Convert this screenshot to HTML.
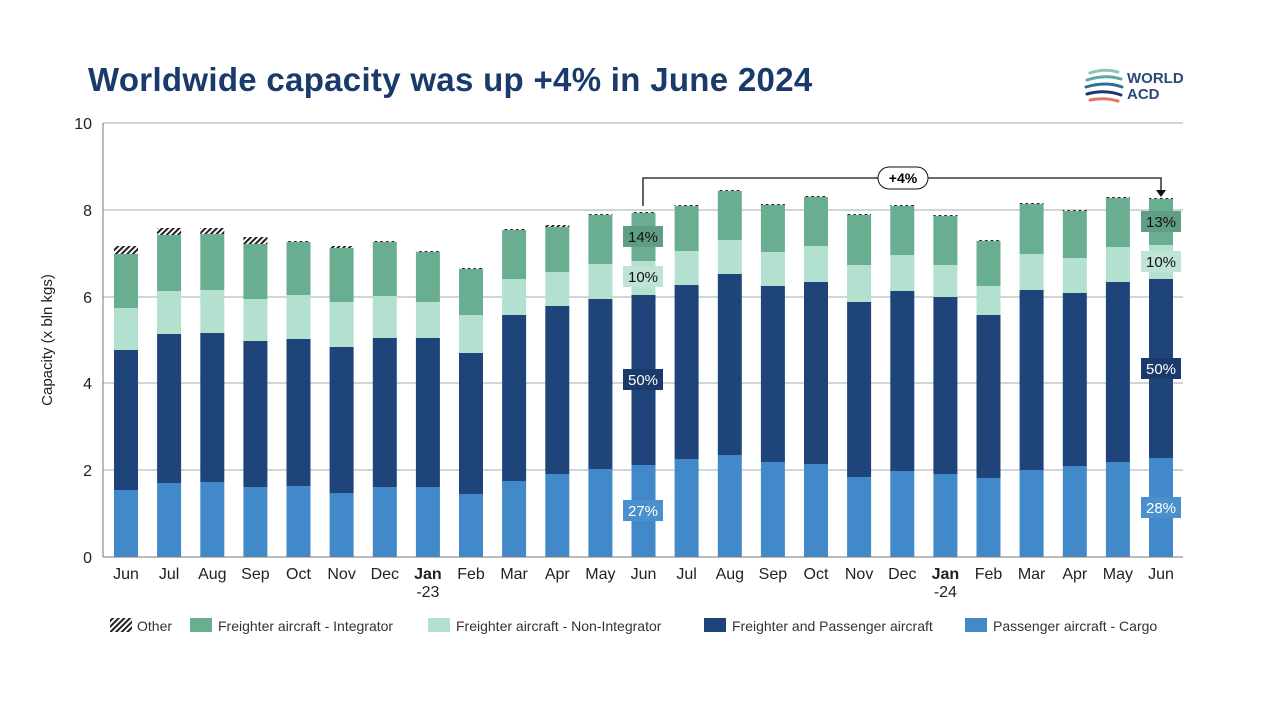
<!DOCTYPE html>
<html><head><meta charset="utf-8"><style>
body{margin:0;background:#fff;}
svg{display:block;font-family:"Liberation Sans",sans-serif;}
.a{fill:#4289c9}.b{fill:#1e4479}.c{fill:#b3e0cf}.e{fill:#6aae92}.o{fill:url(#h)}
</style></head><body>
<svg width="1280" height="720" viewBox="0 0 1280 720" xmlns="http://www.w3.org/2000/svg">
<defs>
<pattern id="h" width="4" height="4" patternUnits="userSpaceOnUse" patternTransform="rotate(45)">
<rect width="4" height="4" fill="#fff"/><rect width="2" height="4" fill="#222"/></pattern>
</defs>
<text x="88" y="91" font-size="33" font-weight="bold" letter-spacing="0.3" fill="#1a3a6b">Worldwide capacity was up +4% in June 2024</text>
<g fill="none" stroke-width="3" stroke-linecap="round">
<path d="M1090 73 q14 -5 28 -1" stroke="#8cc7b0"/>
<path d="M1087 80 q18 -6 34 -1" stroke="#5fa7a0"/>
<path d="M1086 87 q20 -6 36 0" stroke="#2d6f93"/>
<path d="M1087 94 q18 -5 34 1" stroke="#1a3a6b"/>
<path d="M1090 100 q14 -3 28 1" stroke="#e07a5f"/>
</g>
<text x="1127" y="83" font-size="15" font-weight="bold" fill="#2a4a75">WORLD</text>
<text x="1127" y="99" font-size="15" font-weight="bold" fill="#2a4a75">ACD</text>
<g stroke="#9bb0ac" stroke-width="1">
<line x1="103" y1="123" x2="1183" y2="123"/>
<line x1="103" y1="210" x2="1183" y2="210"/>
<line x1="103" y1="297" x2="1183" y2="297"/>
<line x1="103" y1="383" x2="1183" y2="383"/>
<line x1="103" y1="470" x2="1183" y2="470"/>
</g>
<g font-size="16" fill="#222" text-anchor="end">
<text x="92" y="129">10</text><text x="92" y="216">8</text><text x="92" y="303">6</text>
<text x="92" y="389">4</text><text x="92" y="476">2</text><text x="92" y="563">0</text>
</g>
<text transform="translate(52,340) rotate(-90)" font-size="15" fill="#222" text-anchor="middle">Capacity (x bln kgs)</text>

<g transform="translate(114,0)"><rect class="a" y="490" width="24" height="67"/><rect class="b" y="350" width="24" height="140"/><rect class="c" y="308" width="24" height="42"/><rect class="e" y="254" width="24" height="54"/><rect class="o" y="246" width="24" height="8"/></g>
<g transform="translate(157.1,0)"><rect class="a" y="483" width="24" height="74"/><rect class="b" y="334" width="24" height="149"/><rect class="c" y="291" width="24" height="43"/><rect class="e" y="235" width="24" height="56"/><rect class="o" y="228" width="24" height="7"/></g>
<g transform="translate(200.3,0)"><rect class="a" y="482" width="24" height="75"/><rect class="b" y="333" width="24" height="149"/><rect class="c" y="290" width="24" height="43"/><rect class="e" y="234" width="24" height="56"/><rect class="o" y="228" width="24" height="6"/></g>
<g transform="translate(243.4,0)"><rect class="a" y="487" width="24" height="70"/><rect class="b" y="341" width="24" height="146"/><rect class="c" y="299" width="24" height="42"/><rect class="e" y="244" width="24" height="55"/><rect class="o" y="237" width="24" height="7"/></g>
<g transform="translate(286.5,0)"><rect class="a" y="486" width="24" height="71"/><rect class="b" y="339" width="24" height="147"/><rect class="c" y="295" width="24" height="44"/><rect class="e" y="242" width="24" height="53"/><rect class="o" y="241" width="24" height="1"/></g>
<g transform="translate(329.6,0)"><rect class="a" y="493" width="24" height="64"/><rect class="b" y="347" width="24" height="146"/><rect class="c" y="302" width="24" height="45"/><rect class="e" y="248" width="24" height="54"/><rect class="o" y="246" width="24" height="2"/></g>
<g transform="translate(372.8,0)"><rect class="a" y="487" width="24" height="70"/><rect class="b" y="338" width="24" height="149"/><rect class="c" y="296" width="24" height="42"/><rect class="e" y="242" width="24" height="54"/><rect class="o" y="241" width="24" height="1"/></g>
<g transform="translate(415.9,0)"><rect class="a" y="487" width="24" height="70"/><rect class="b" y="338" width="24" height="149"/><rect class="c" y="302" width="24" height="36"/><rect class="e" y="252" width="24" height="50"/><rect class="o" y="251" width="24" height="1"/></g>
<g transform="translate(459,0)"><rect class="a" y="494" width="24" height="63"/><rect class="b" y="353" width="24" height="141"/><rect class="c" y="315" width="24" height="38"/><rect class="e" y="269" width="24" height="46"/><rect class="o" y="268" width="24" height="1"/></g>
<g transform="translate(502.1,0)"><rect class="a" y="481" width="24" height="76"/><rect class="b" y="315" width="24" height="166"/><rect class="c" y="279" width="24" height="36"/><rect class="e" y="230" width="24" height="49"/><rect class="o" y="229" width="24" height="1"/></g>
<g transform="translate(545.3,0)"><rect class="a" y="474" width="24" height="83"/><rect class="b" y="306" width="24" height="168"/><rect class="c" y="272" width="24" height="34"/><rect class="e" y="227" width="24" height="45"/><rect class="o" y="225" width="24" height="2"/></g>
<g transform="translate(588.4,0)"><rect class="a" y="469" width="24" height="88"/><rect class="b" y="299" width="24" height="170"/><rect class="c" y="264" width="24" height="35"/><rect class="e" y="215" width="24" height="49"/><rect class="o" y="214" width="24" height="1"/></g>
<g transform="translate(631.5,0)"><rect class="a" y="465" width="24" height="92"/><rect class="b" y="295" width="24" height="170"/><rect class="c" y="261" width="24" height="34"/><rect class="e" y="213" width="24" height="48"/><rect class="o" y="212" width="24" height="1"/></g>
<g transform="translate(674.6,0)"><rect class="a" y="459" width="24" height="98"/><rect class="b" y="285" width="24" height="174"/><rect class="c" y="251" width="24" height="34"/><rect class="e" y="206" width="24" height="45"/><rect class="o" y="205" width="24" height="1"/></g>
<g transform="translate(717.8,0)"><rect class="a" y="455" width="24" height="102"/><rect class="b" y="274" width="24" height="181"/><rect class="c" y="240" width="24" height="34"/><rect class="e" y="191" width="24" height="49"/><rect class="o" y="190" width="24" height="1"/></g>
<g transform="translate(760.9,0)"><rect class="a" y="462" width="24" height="95"/><rect class="b" y="286" width="24" height="176"/><rect class="c" y="252" width="24" height="34"/><rect class="e" y="205" width="24" height="47"/><rect class="o" y="204" width="24" height="1"/></g>
<g transform="translate(804,0)"><rect class="a" y="464" width="24" height="93"/><rect class="b" y="282" width="24" height="182"/><rect class="c" y="246" width="24" height="36"/><rect class="e" y="197" width="24" height="49"/><rect class="o" y="196" width="24" height="1"/></g>
<g transform="translate(847.1,0)"><rect class="a" y="477" width="24" height="80"/><rect class="b" y="302" width="24" height="175"/><rect class="c" y="265" width="24" height="37"/><rect class="e" y="215" width="24" height="50"/><rect class="o" y="214" width="24" height="1"/></g>
<g transform="translate(890.3,0)"><rect class="a" y="471" width="24" height="86"/><rect class="b" y="291" width="24" height="180"/><rect class="c" y="255" width="24" height="36"/><rect class="e" y="206" width="24" height="49"/><rect class="o" y="205" width="24" height="1"/></g>
<g transform="translate(933.4,0)"><rect class="a" y="474" width="24" height="83"/><rect class="b" y="297" width="24" height="177"/><rect class="c" y="265" width="24" height="32"/><rect class="e" y="216" width="24" height="49"/><rect class="o" y="215" width="24" height="1"/></g>
<g transform="translate(976.5,0)"><rect class="a" y="478" width="24" height="79"/><rect class="b" y="315" width="24" height="163"/><rect class="c" y="286" width="24" height="29"/><rect class="e" y="241" width="24" height="45"/><rect class="o" y="240" width="24" height="1"/></g>
<g transform="translate(1019.6,0)"><rect class="a" y="470" width="24" height="87"/><rect class="b" y="290" width="24" height="180"/><rect class="c" y="254" width="24" height="36"/><rect class="e" y="204" width="24" height="50"/><rect class="o" y="203" width="24" height="1"/></g>
<g transform="translate(1062.8,0)"><rect class="a" y="466" width="24" height="91"/><rect class="b" y="293" width="24" height="173"/><rect class="c" y="258" width="24" height="35"/><rect class="e" y="211" width="24" height="47"/><rect class="o" y="210" width="24" height="1"/></g>
<g transform="translate(1105.9,0)"><rect class="a" y="462" width="24" height="95"/><rect class="b" y="282" width="24" height="180"/><rect class="c" y="247" width="24" height="35"/><rect class="e" y="198" width="24" height="49"/><rect class="o" y="197" width="24" height="1"/></g>
<g transform="translate(1149,0)"><rect class="a" y="458" width="24" height="99"/><rect class="b" y="279" width="24" height="179"/><rect class="c" y="245" width="24" height="34"/><rect class="e" y="199" width="24" height="46"/><rect class="o" y="198" width="24" height="1"/></g>

<line x1="103" y1="123" x2="103" y2="557" stroke="#777"/>
<line x1="103" y1="557" x2="1183" y2="557" stroke="#777"/>

<g font-size="16" fill="#222" text-anchor="middle">
<text x="126" y="579">Jun</text><text x="169.1" y="579">Jul</text><text x="212.3" y="579">Aug</text><text x="255.4" y="579">Sep</text><text x="298.5" y="579">Oct</text><text x="341.6" y="579">Nov</text><text x="384.8" y="579">Dec</text>
<text x="427.9" y="579" font-weight="bold">Jan</text><text x="427.9" y="597">-23</text>
<text x="471" y="579">Feb</text><text x="514.1" y="579">Mar</text><text x="557.3" y="579">Apr</text><text x="600.4" y="579">May</text><text x="643.5" y="579">Jun</text><text x="686.6" y="579">Jul</text><text x="729.8" y="579">Aug</text><text x="772.9" y="579">Sep</text><text x="816" y="579">Oct</text><text x="859.1" y="579">Nov</text><text x="902.3" y="579">Dec</text>
<text x="945.4" y="579" font-weight="bold">Jan</text><text x="945.4" y="597">-24</text>
<text x="988.5" y="579">Feb</text><text x="1031.6" y="579">Mar</text><text x="1074.8" y="579">Apr</text><text x="1117.9" y="579">May</text><text x="1161" y="579">Jun</text>
</g>

<path d="M643 206 V178 H1161 V192" stroke="#111" fill="none" stroke-width="1.3"/>
<polygon points="1156,190 1166,190 1161,197" fill="#111"/>
<rect x="878" y="167" width="50" height="22" rx="11" fill="#fff" stroke="#111"/>
<text x="903" y="183" font-size="14" font-weight="bold" text-anchor="middle">+4%</text>
<g font-size="15" text-anchor="middle">
<rect x="623" y="226" width="40" height="21" fill="#5f9e84"/><text x="643" y="242" fill="#111">14%</text>
<rect x="623" y="266" width="40" height="21" fill="#bfe3d6"/><text x="643" y="282" fill="#111">10%</text>
<rect x="623" y="369" width="40" height="21" fill="#1a3a6b"/><text x="643" y="385" fill="#fff">50%</text>
<rect x="623" y="500" width="40" height="21" fill="#4a90cc"/><text x="643" y="516" fill="#fff">27%</text>
<rect x="1141" y="211" width="40" height="21" fill="#5f9e84"/><text x="1161" y="227" fill="#111">13%</text>
<rect x="1141" y="251" width="40" height="21" fill="#bfe3d6"/><text x="1161" y="267" fill="#111">10%</text>
<rect x="1141" y="358" width="40" height="21" fill="#1a3a6b"/><text x="1161" y="374" fill="#fff">50%</text>
<rect x="1141" y="497" width="40" height="21" fill="#4a90cc"/><text x="1161" y="513" fill="#fff">28%</text>
</g>
<g font-size="14" fill="#333">
<rect x="110" y="618" width="22" height="14" fill="url(#h)"/><text x="137" y="631">Other</text>
<rect x="190" y="618" width="22" height="14" fill="#6aae92"/><text x="218" y="631">Freighter aircraft - Integrator</text>
<rect x="428" y="618" width="22" height="14" fill="#b3e0cf"/><text x="456" y="631">Freighter aircraft - Non-Integrator</text>
<rect x="704" y="618" width="22" height="14" fill="#1e4479"/><text x="732" y="631">Freighter and Passenger aircraft</text>
<rect x="965" y="618" width="22" height="14" fill="#4289c9"/><text x="993" y="631">Passenger aircraft - Cargo</text>
</g>
</svg>
</body></html>
